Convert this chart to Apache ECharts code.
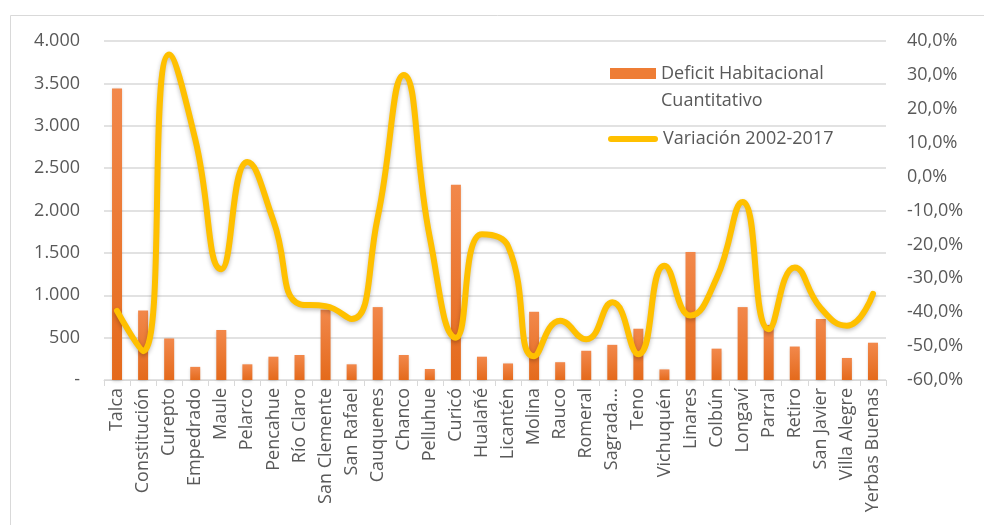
<!DOCTYPE html>
<html lang="es">
<head>
<meta charset="utf-8">
<title>Deficit Habitacional Cuantitativo - Región del Maule</title>
<script src="https://cdn.jsdelivr.net/npm/echarts@6/dist/echarts.min.js"></script>
<style>
  html, body { margin: 0; padding: 0; background: #fff; }
  #main { width: 984px; height: 525px; }
</style>
</head>
<body>
<div id="main"></div>
<script type="text/javascript">
// comunas
var comunas = ['Talca', 'Constitución', 'Curepto', 'Empedrado', 'Maule', 'Pelarco', 'Pencahue',
  'Río Claro', 'San Clemente', 'San Rafael', 'Cauquenes', 'Chanco', 'Pelluhue', 'Curicó',
  'Hualañé', 'Licantén', 'Molina', 'Rauco', 'Romeral', 'Sagrada...', 'Teno', 'Vichuquén',
  'Linares', 'Colbún', 'Longaví', 'Parral', 'Retiro', 'San Javier', 'Villa Alegre', 'Yerbas Buenas'];

// deficit habitacional cuantitativo (viviendas)
var deficit = [3440, 820, 490, 155, 590, 185, 275, 295, 830, 185, 860, 295, 130, 2305,
  275, 195, 805, 210, 345, 415, 605, 125, 1510, 370, 860, 650, 395, 720, 260, 440];

// variación 2002-2017 (%)
var variacion = [-39.6, -51.5, 36, 11, -27.3, 4.3, -13, -37.6, -38.2, -42, -12, 30, -18, -47.5,
  -17, -20.5, -53, -42.5, -48, -37.1, -52.4, -26.3, -41, -30, -7.5, -45, -26.8, -38.8, -44, -34.6];

var leftTicks = { min: 0, max: 4000, step: 500 };
var rightTicks = { min: -60, max: 40, step: 10 };

var fuente = '"Open Sans", "Noto Sans", sans-serif';
var gris = '#595959';

var myChart = echarts.init(document.getElementById('main'));

var option = {
    animation: false,
    textStyle: { fontFamily: fuente },
    graphic: [{
        type: 'rect',
        shape: { x: 10.5, y: 15.5, width: 1200, height: 800 },
        style: { fill: 'none', stroke: '#d9d9d9', lineWidth: 1 },
        silent: true
    }],
    grid: { left: 104, right: 98, top: 41, bottom: 145 },
    legend: [{
        data: ['Deficit Habitacional Cuantitativo'],
        left: 605,
        top: 55,
        itemWidth: 46,
        itemHeight: 38,
        // barra arriba para que quede alineada con la primera línea del texto
        icon: 'path://M0,0 H46 V11 H0 Z M0,38 L46,38',
        itemStyle: { color: '#ee7d35', borderWidth: 0, shadowBlur: 0 },
        formatter: function (n) { return n.replace(' Cuantitativo', '\nCuantitativo'); },
        textStyle: { color: gris, fontSize: 18, fontFamily: fuente, lineHeight: 27 }
    }, {
        data: ['Variación 2002-2017'],
        left: 603,
        top: 125,
        itemWidth: 50,
        itemHeight: 6,
        icon: 'path://M3,0 H47 A3,3 0 0 1 47,6 H3 A3,3 0 0 1 3,0 Z',
        itemStyle: { color: '#ffc000' },
        textStyle: { color: gris, fontSize: 18, fontFamily: fuente }
    }],
    xAxis: {
        type: 'category',
        data: comunas,
        axisLine: { lineStyle: { color: '#d9d9d9', width: 1 } },
        axisTick: { show: true, length: 6, lineStyle: { color: '#d9d9d9' } },
        axisLabel: {
            rotate: 90,
            interval: 0,
            margin: 8,
            color: gris,
            fontSize: 18,
            fontFamily: fuente
        }
    },
    yAxis: [{
        type: 'value',
        min: leftTicks.min,
        max: leftTicks.max,
        interval: leftTicks.step,
        axisLine: { show: false },
        axisTick: { show: false },
        splitLine: { lineStyle: { color: '#d9d9d9', width: 1.5 } },
        axisLabel: {
            margin: 24,
            color: gris,
            fontSize: 18,
            fontFamily: fuente,
            formatter: function (v) {
                if (v === 0) return '-';
                return String(v).replace(/\B(?=(\d{3})+(?!\d))/g, '.');
            }
        }
    }, {
        type: 'value',
        min: rightTicks.min,
        max: rightTicks.max,
        interval: rightTicks.step,
        axisLine: { show: false },
        axisTick: { show: false },
        splitLine: { show: false },
        axisLabel: {
            margin: 21,
            color: gris,
            fontSize: 18,
            fontFamily: fuente,
            formatter: function (v) { return v.toFixed(1).replace('.', ',') + '%'; }
        }
    }],
    series: [{
        name: 'Deficit Habitacional Cuantitativo',
        type: 'bar',
        data: deficit,
        barWidth: 10,
        itemStyle: {
            color: new echarts.graphic.LinearGradient(0, 0, 0, 1, [
                { offset: 0, color: '#f2884b' },
                { offset: 1, color: '#e46a1c' }
            ]),
            shadowColor: 'rgba(0,0,0,0.2)',
            shadowBlur: 3,
            shadowOffsetY: 1
        }
    }, {
        name: 'Variación 2002-2017',
        type: 'line',
        yAxisIndex: 1,
        data: variacion,
        smooth: 0.5,
        symbol: 'none',
        lineStyle: {
            color: '#ffc000',
            width: 6,
            cap: 'round',
            shadowColor: 'rgba(0,0,0,0.25)',
            shadowBlur: 4,
            shadowOffsetY: 2
        },
        itemStyle: { color: '#ffc000' }
    }]
};

myChart.setOption(option);
</script>
</body>
</html>
